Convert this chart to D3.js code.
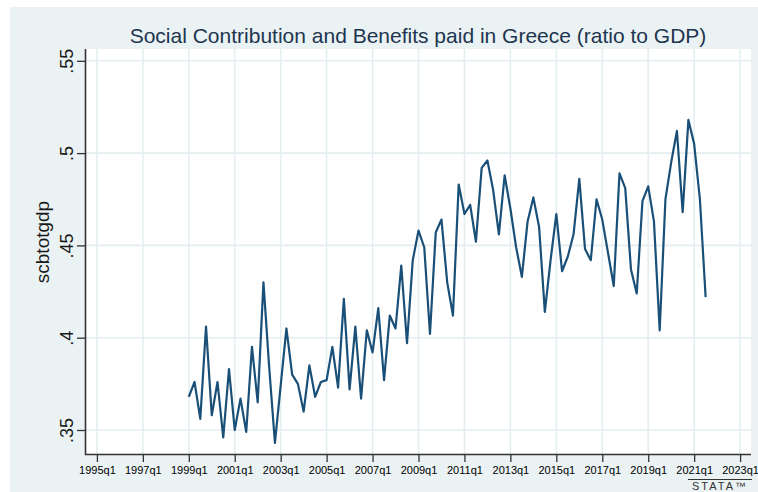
<!DOCTYPE html>
<html>
<head>
<meta charset="utf-8">
<script src="https://cdn.jsdelivr.net/npm/d3@7"></script>
<style>
body { margin: 0; background: #fff; }
svg { display: block; font-family: "Liberation Sans", Arial, sans-serif; }
</style>
</head>
<body>
<div id="chart"></div>
<script>
// quarterly series, first observation 1999q1
const firstYear = 1999;
const firstQuarter = 1;
const scbtotgdp = [
	0.368, 0.376, 0.356, 0.406, 0.358, 0.376, 0.346, 0.383, 0.350, 0.367,
	0.349, 0.395, 0.365, 0.430, 0.384, 0.343, 0.374, 0.405, 0.380, 0.375,
	0.360, 0.385, 0.368, 0.376, 0.377, 0.395, 0.373, 0.421, 0.372, 0.406,
	0.367, 0.404, 0.392, 0.416, 0.377, 0.412, 0.405, 0.439, 0.397, 0.442,
	0.458, 0.449, 0.402, 0.457, 0.464, 0.430, 0.412, 0.483, 0.467, 0.472,
	0.452, 0.492, 0.496, 0.480, 0.456, 0.488, 0.470, 0.449, 0.433, 0.463,
	0.476, 0.460, 0.414, 0.442, 0.467, 0.436, 0.444, 0.456, 0.486, 0.448,
	0.442, 0.475, 0.464, 0.446, 0.428, 0.489, 0.481, 0.437, 0.424, 0.474,
	0.482, 0.463, 0.404, 0.475, 0.495, 0.512, 0.468, 0.518, 0.505, 0.475,
	0.422
];
const xTickLabels = ['1995q1','1997q1','1999q1','2001q1','2003q1','2005q1','2007q1',
	'2009q1','2011q1','2013q1','2015q1','2017q1','2019q1','2021q1','2023q1'];
const yTicks = [0.35, 0.40, 0.45, 0.50, 0.55];
const yTickLabels = ['.35', '.4', '.45', '.5', '.55'];

const width = 758, height = 492;
const plot = {left: 86, right: 751, top: 49, bottom: 454};

// quarter number counted from 1995q1
const qIndex = (label) => {
	const y = +label.slice(0, 4), q = +label.slice(5);
	return (y - 1995) * 4 + (q - 1);
};
const start = (firstYear - 1995) * 4 + (firstQuarter - 1);
const points = scbtotgdp.map((v, i) => ({t: start + i, v: v}));

const xScale = d3.scaleLinear()
	.domain([-1.9, 113.9])
	.range([plot.left, plot.right]);

const yScale = d3.scaleLinear()
	.domain([0.337, 0.5564])
	.range([plot.bottom, plot.top]);

const svg = d3.select('#chart').append('svg')
	.attr('width', width)
	.attr('height', height);

svg.append('rect')
	.attr('x', 10).attr('y', 7)
	.attr('width', width - 10).attr('height', height - 7)
	.style('fill', '#eaf2f3');

svg.append('rect')
	.attr('x', plot.left).attr('y', plot.top)
	.attr('width', plot.right - plot.left).attr('height', plot.bottom - plot.top)
	.style('fill', '#fff');

// grid
svg.append('g').selectAll('line')
	.data(xTickLabels)
	.enter().append('line')
	.attr('x1', d => xScale(qIndex(d))).attr('x2', d => xScale(qIndex(d)))
	.attr('y1', plot.top).attr('y2', plot.bottom)
	.style('stroke', '#e4eef1').style('stroke-width', 1.6);

svg.append('g').selectAll('line')
	.data(yTicks)
	.enter().append('line')
	.attr('x1', plot.left).attr('x2', plot.right)
	.attr('y1', d => yScale(d)).attr('y2', d => yScale(d))
	.style('stroke', '#e4eef1').style('stroke-width', 1.6);

// series
const line = d3.line()
	.x(d => xScale(d.t))
	.y(d => yScale(d.v));

svg.append('path')
	.datum(points)
	.attr('d', line)
	.style('fill', 'none')
	.style('stroke', '#1a5078')
	.style('stroke-width', 2.2)
	.style('stroke-linejoin', 'round');

// axes
const xAxis = d3.axisBottom(xScale)
	.tickValues(xTickLabels.map(qIndex))
	.tickFormat((d, i) => xTickLabels[i])
	.tickSize(8)
	.tickPadding(4);

const gx = svg.append('g')
	.attr('transform', `translate(0,${plot.bottom})`)
	.call(xAxis);
gx.select('.domain').attr('d', `M${plot.left - 1},0.5H${plot.right}`);
gx.selectAll('line').style('stroke', '#333').style('stroke-width', 1.3);
gx.select('.domain').style('stroke', '#333').style('stroke-width', 1.6);
gx.selectAll('text')
	.style('font-size', '11px')
	.style('fill', '#000')
	.style('font-family', '"Liberation Sans", Arial, sans-serif');

const yAxis = d3.axisLeft(yScale)
	.tickValues(yTicks)
	.tickFormat((d, i) => yTickLabels[i])
	.tickSize(8);

const gy = svg.append('g')
	.attr('transform', `translate(${plot.left - 1},0)`)
	.call(yAxis);
gy.select('.domain').attr('d', `M0.5,${plot.top}V${plot.bottom + 1}`);
gy.selectAll('line').style('stroke', '#333').style('stroke-width', 1.3);
gy.select('.domain').style('stroke', '#333').style('stroke-width', 1.6);
gy.selectAll('text')
	.attr('x', null).attr('dy', null)
	.attr('transform', 'translate(-12,0) rotate(-90)')
	.attr('text-anchor', 'middle')
	.style('font-size', '18px')
	.style('fill', '#1a1a1a')
	.style('font-family', '"Liberation Sans", Arial, sans-serif');

// titles
svg.append('text')
	.attr('x', 418).attr('y', 43)
	.attr('text-anchor', 'middle')
	.style('font-size', '21px')
	.style('fill', '#1e3550')
	.text('Social Contribution and Benefits paid in Greece (ratio to GDP)');

svg.append('text')
	.attr('transform', `translate(49,242) rotate(-90)`)
	.attr('text-anchor', 'middle')
	.style('font-size', '19px')
	.style('fill', '#1a1a1a')
	.text('scbtotgdp');

// stata mark
svg.append('line')
	.attr('x1', 688).attr('x2', 752)
	.attr('y1', 479.5).attr('y2', 479.5)
	.style('stroke', '#333').style('stroke-width', 1);
svg.append('text')
	.attr('x', 720).attr('y', 490)
	.attr('text-anchor', 'middle')
	.style('font-size', '11px')
	.style('letter-spacing', '2px')
	.style('fill', '#333')
	.text('STATA™');
</script>
</body>
</html>
